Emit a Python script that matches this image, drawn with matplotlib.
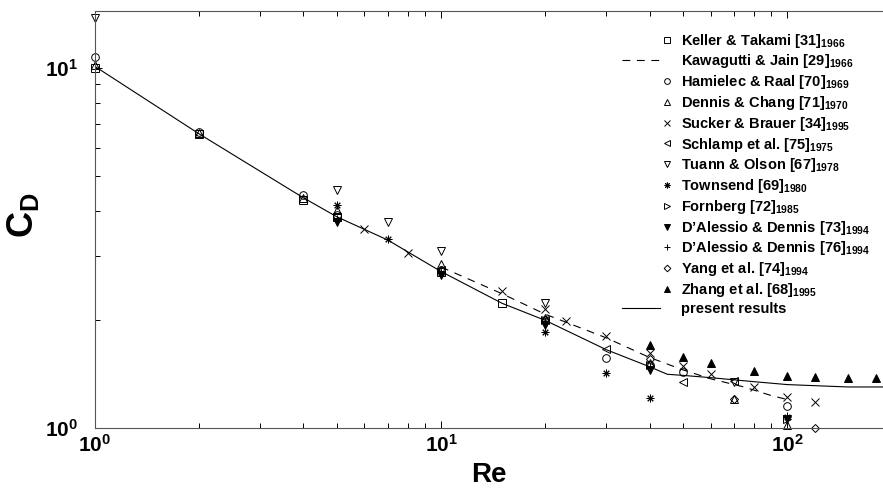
import matplotlib
matplotlib.use("Agg")
import matplotlib.pyplot as plt
from matplotlib.legend_handler import HandlerLine2D

plt.rcParams['font.family'] = ['Liberation Sans', 'DejaVu Sans']
plt.rcParams['font.weight'] = 'bold'
plt.rcParams['mathtext.fontset'] = 'custom'
plt.rcParams['mathtext.rm'] = 'Liberation Sans:bold'
plt.rcParams['mathtext.bf'] = 'Liberation Sans:bold'
plt.rcParams['mathtext.it'] = 'Liberation Sans:bold'

# ---- data ----
present_re = [1, 2, 4, 5, 7, 10, 15, 20, 30, 40, 45, 50, 60, 80, 100, 150, 190]
present_cd = [10.1, 6.56, 4.36, 3.86, 3.33, 2.72, 2.22, 1.99, 1.65, 1.48, 1.41, 1.40, 1.38, 1.345, 1.32, 1.30, 1.30]

kawagutti_re = [10, 15, 20, 30, 40, 50, 60, 75, 90, 100]
kawagutti_cd = [2.80, 2.36, 2.07, 1.78, 1.57, 1.45, 1.37, 1.30, 1.23, 1.20]

keller_re = [1, 2, 4, 5, 10, 15]
keller_cd = [10.0, 6.55, 4.30, 3.86, 2.72, 2.22]

hamielec_re = [1, 2, 4, 5, 10, 20, 30, 40, 50, 100]
hamielec_cd = [10.7, 6.64, 4.44, 3.90, 2.75, 1.99, 1.56, 1.50, 1.43, 1.15]

dennis_re = [1, 2, 4, 5, 10, 20, 40, 70, 100]
dennis_cd = [10.2, 6.60, 4.35, 4.03, 2.85, 2.02, 1.52, 1.20, 1.02]

sucker_re = [6, 8, 15, 20, 23, 30, 40, 50, 60, 80, 100, 120]
sucker_cd = [3.57, 3.06, 2.40, 2.14, 1.98, 1.80, 1.62, 1.49, 1.41, 1.30, 1.22, 1.18]

schlamp_re = [10, 20, 30, 50, 70]
schlamp_cd = [2.75, 2.00, 1.66, 1.34, 1.35]

tuann_re = [1, 5, 7, 10, 20, 70]
tuann_cd = [13.8, 4.58, 3.74, 3.10, 2.22, 1.34]

townsend_re = [5, 7, 10, 20, 30, 40, 100]
townsend_cd = [4.16, 3.35, 2.69, 1.85, 1.42, 1.21, 1.07]

fornberg_re = [20, 40, 100]
fornberg_cd = [2.00, 1.50, 1.06]

dalessio73_re = [5, 10, 20, 40, 100]
dalessio73_cd = [3.74, 2.66, 1.93, 1.45, 1.06]

dalessio76_re = [5, 10, 20, 40, 100]
dalessio76_cd = [3.80, 2.70, 1.97, 1.48, 1.08]

yang_re = [10, 20, 40, 70, 120]
yang_cd = [2.74, 2.00, 1.55, 1.20, 1.00]

zhang_re = [40, 50, 60, 80, 100, 120, 150, 180]
zhang_cd = [1.70, 1.575, 1.515, 1.44, 1.395, 1.385, 1.377, 1.377]

x_ticks = [1, 10, 100]
x_ticklabels = [r'$10^{0}$', r'$10^{1}$', r'$10^{2}$']
y_ticks = [1, 10]
y_ticklabels = [r'$10^{0}$', r'$10^{1}$']


class RightMarker(HandlerLine2D):
    # single marker near the right end of the handle box
    def get_xdata(self, legend, xdescent, ydescent, width, height, fontsize):
        x1 = -xdescent + width
        xdata = [x1 - 0.6 * fontsize, x1]
        return xdata, xdata


class ShortLine(HandlerLine2D):
    # line handle that stops a bit before the text, as in the original
    def get_xdata(self, legend, xdescent, ydescent, width, height, fontsize):
        xdata = [-xdescent, -xdescent + width - 0.8 * fontsize]
        return xdata, xdata


fig = plt.figure(figsize=(8.83, 4.88), dpi=100)
ax = fig.add_axes([95 / 883, 60 / 488, 788 / 883, 417 / 488])

ms = 5.5
mk = dict(color='k', mfc='none', mew=0.7, ms=ms, ls='none', clip_on=False)

present, = ax.plot(present_re, present_cd, '-', color='k', lw=0.8, label='present results')
kawagutti, = ax.plot(kawagutti_re, kawagutti_cd, color='k', lw=0.8, dashes=(7, 6),
                     label='Kawagutti & Jain [29]$_{1966}$')

h = []
h.append(ax.plot(keller_re, keller_cd, marker='s', label='Keller & Takami [31]$_{1966}$', **mk)[0])
h.append(ax.plot(hamielec_re, hamielec_cd, marker='o', label='Hamielec & Raal [70]$_{1969}$', **mk)[0])
h.append(ax.plot(dennis_re, dennis_cd, marker='^', label='Dennis & Chang [71]$_{1970}$', **mk)[0])
h.append(ax.plot(sucker_re, sucker_cd, marker='x', label='Sucker & Brauer [34]$_{1995}$', **mk)[0])
h.append(ax.plot(schlamp_re, schlamp_cd, marker='<', label='Schlamp et al. [75]$_{1975}$', **mk)[0])
h.append(ax.plot(tuann_re, tuann_cd, marker='v', label='Tuann & Olson [67]$_{1978}$', **mk)[0])
h.append(ax.plot(townsend_re, townsend_cd, marker=(8, 2, 0), label='Townsend [69]$_{1980}$', **mk)[0])
h.append(ax.plot(fornberg_re, fornberg_cd, marker='>', label='Fornberg [72]$_{1985}$', **mk)[0])
filled = dict(mk, mfc='k')
h.append(ax.plot(dalessio73_re, dalessio73_cd, marker='v', label='D\u2019Alessio & Dennis [73]$_{1994}$', **filled)[0])
h.append(ax.plot(dalessio76_re, dalessio76_cd, marker='+', label='D\u2019Alessio & Dennis [76]$_{1994}$', **mk)[0])
h.append(ax.plot(yang_re, yang_cd, marker='D', label='Yang et al. [74]$_{1994}$', **dict(mk, ms=4.5))[0])
h.append(ax.plot(zhang_re, zhang_cd, marker='^', label='Zhang et al. [68]$_{1995}$', **filled)[0])

ax.set_xscale('log')
ax.set_yscale('log')
ax.set_xlim(1, 189)
ax.set_ylim(1, 14.4)

ax.set_xticks(x_ticks)
ax.set_xticklabels(x_ticklabels)
ax.set_yticks(y_ticks)
ax.set_yticklabels(y_ticklabels)
ax.tick_params(which='both', direction='in', top=True, right=False, labelsize=15)
ax.tick_params(axis='x', pad=4)
ax.tick_params(axis='y', pad=12)
ax.tick_params(which='major', length=5, width=0.7)
ax.tick_params(which='minor', length=3.5, width=0.7)
ax.spines['right'].set_visible(False)
for s in ['left', 'bottom', 'top']:
    ax.spines[s].set_linewidth(0.8)
    ax.spines[s].set_color('#555555')

ax.set_xlabel('Re', fontsize=20, fontweight='bold', labelpad=5)
ax.set_ylabel(r'$\mathbf{C_D}$', fontsize=26)
ax.yaxis.set_label_coords(-0.068, 0.51)

handles = [h[0], kawagutti] + h[1:] + [present]
hmap = {hh: RightMarker() for hh in h}
hmap[present] = ShortLine()
hmap[kawagutti] = ShortLine()
leg = ax.legend(handles=handles, loc='upper left', bbox_to_anchor=(0.704, 0.935),
                bbox_transform=fig.transFigure, frameon=False, fontsize=10.5,
                handlelength=3.4, handletextpad=0.7, labelspacing=0.19,
                borderpad=0, borderaxespad=0, numpoints=1, handler_map=hmap,
                markerscale=0.75)

fig.savefig('out.png', dpi=100)
